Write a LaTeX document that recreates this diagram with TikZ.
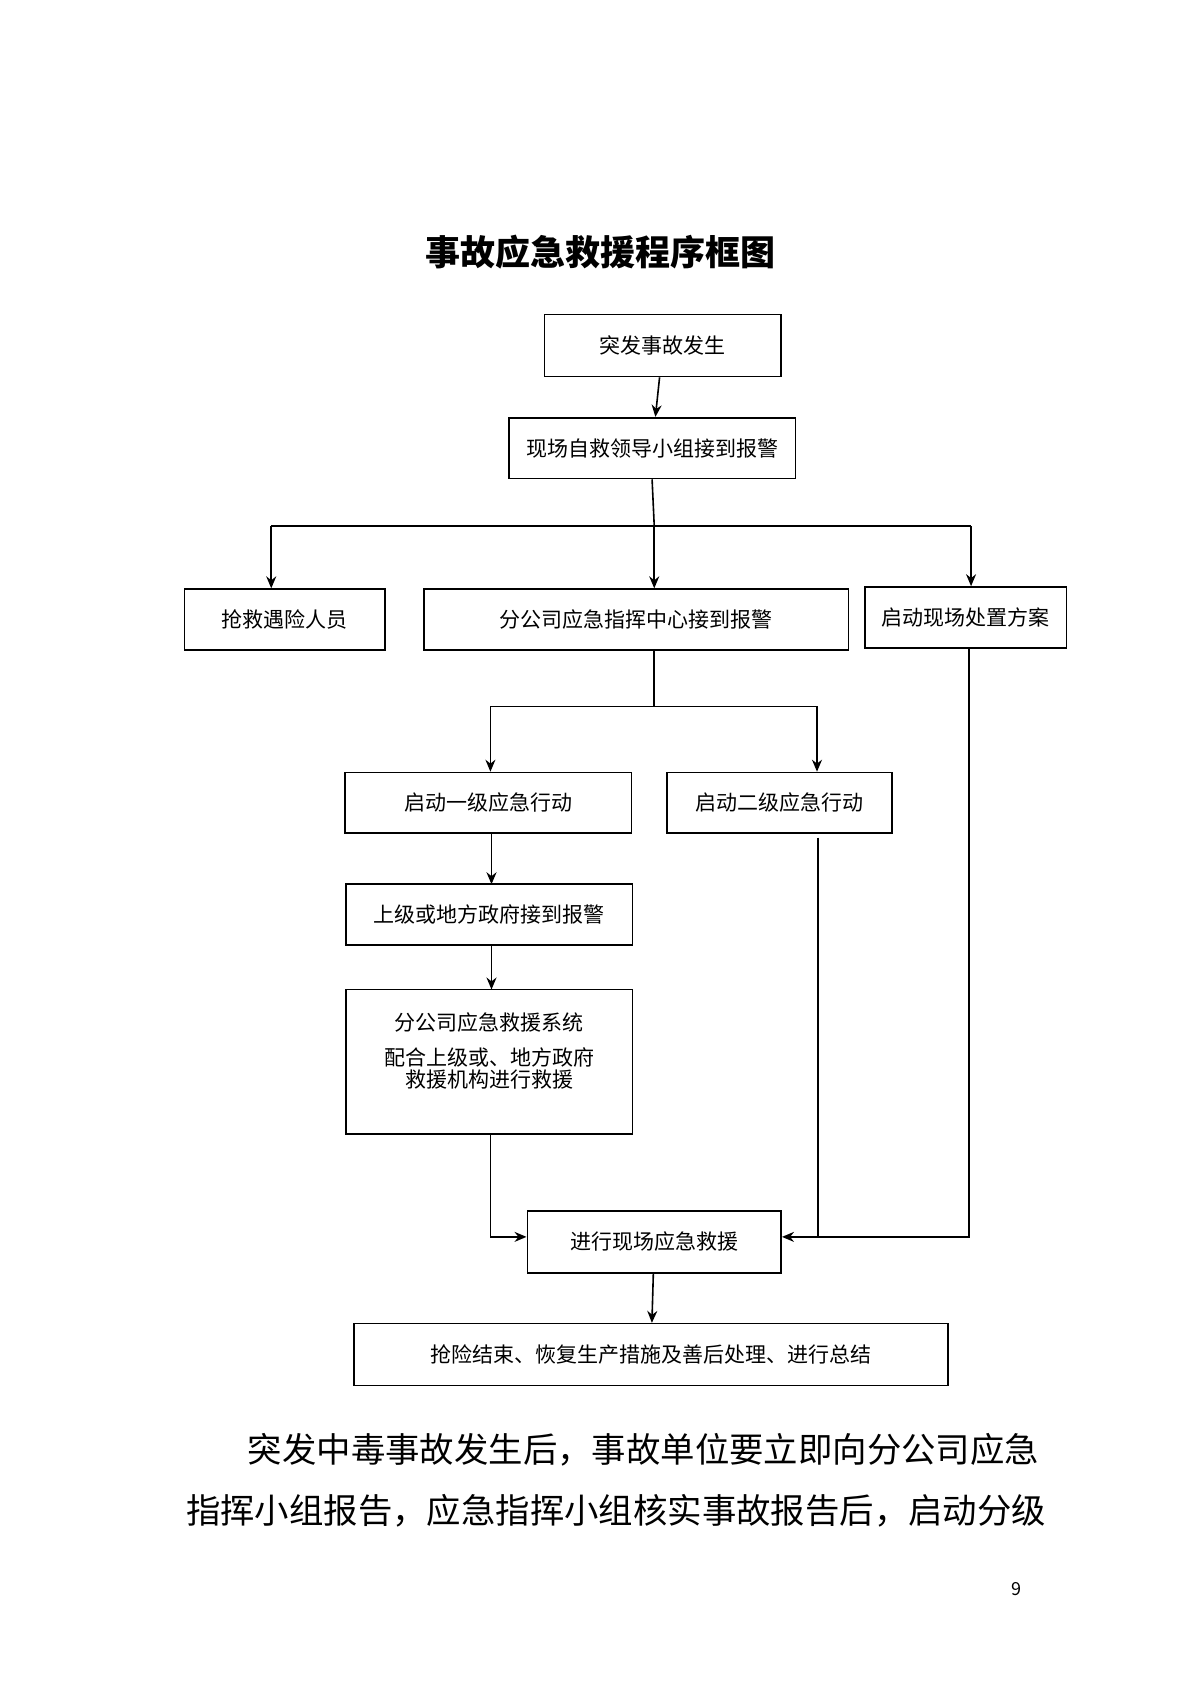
\documentclass[tikz,border=0pt]{standalone}
\usepackage{fontspec}
\setmainfont{Noto Sans CJK SC}
\usetikzlibrary{arrows.meta}
\begin{document}
\begin{tikzpicture}[x=0.5425pt,y=-0.5425pt,
  bx/.style={draw,line width=0.8pt,inner sep=0pt,font=\fontsize{10.5}{12}\selectfont},
  ln/.style={line width=0.8pt},
  ar/.style={line width=0.8pt,-{Stealth[length=6pt,width=5pt]}}]
\useasboundingbox (0,0) rectangle (1106,1565);
\newcommand\bxat[5]{\node[bx,minimum width={(#3-#1)*0.5425pt},minimum height={(#4-#2)*0.5425pt}] (#5) at ({(#1+#3)/2},{(#2+#4)/2}) {};}
\node[font=\fontsize{17.5}{20}\selectfont\bfseries] (title) at (553,232) {事故应急救援程序框图};
\bxat{502}{290}{720}{347}{b1} \node at (b1) {\fontsize{10.5}{12}\selectfont 突发事故发生};
\bxat{469}{385}{733}{441}{b2} \node at (b2) {\fontsize{10.5}{12}\selectfont 现场自救领导小组接到报警};
\bxat{170}{543}{355}{599}{b3} \node at (b3) {\fontsize{10.5}{12}\selectfont 抢救遇险人员};
\bxat{391}{543}{782}{599}{b4} \node at (b4) {\fontsize{10.5}{12}\selectfont 分公司应急指挥中心接到报警};
\bxat{797}{541}{983}{597}{b5} \node at (b5) {\fontsize{10.5}{12}\selectfont 启动现场处置方案};
\bxat{318}{712}{582}{768}{b6} \node at (b6) {\fontsize{10.5}{12}\selectfont 启动一级应急行动};
\bxat{615}{712}{822}{768}{b7} \node at (b7) {\fontsize{10.5}{12}\selectfont 启动二级应急行动};
\bxat{319}{815}{583}{871}{b8} \node at (b8) {\fontsize{10.5}{12}\selectfont 上级或地方政府接到报警};
\bxat{319}{912}{583}{1045}{b9}
\node (t9a) at (451,942) {\fontsize{10.5}{12}\selectfont 分公司应急救援系统};
\node (t9b) at (451,975) {\fontsize{10.5}{12}\selectfont 配合上级或、地方政府};
\node (t9c) at (451,995) {\fontsize{10.5}{12}\selectfont 救援机构进行救援};
\bxat{486}{1116}{720}{1173}{b10} \node at (b10) {\fontsize{10.5}{12}\selectfont 进行现场应急救援};
\bxat{326}{1220}{874}{1277}{b11} \node at (b11) {\fontsize{10.5}{12}\selectfont 抢险结束、恢复生产措施及善后处理、进行总结};
\coordinate (j1) at (603,485); \coordinate (jl) at (250,485); \coordinate (jr) at (895,485);
\coordinate (j2) at (603,651); \coordinate (j2l) at (452,651); \coordinate (j2r) at (753,651);
\coordinate (c9) at (452,1140); \coordinate (c7) at (754,1140); \coordinate (c5) at (893,1140);
\draw[ar] (b1) -- (b2);
\draw[ln] (b2.south) -- (j1); \draw[ln] (jl) -- (jr);
\draw[ar] (jl) -- (jl|-b3.north);
\draw[ar] (j1) -- (j1|-b4.north);
\draw[ar] (jr) -- (jr|-b5.north);
\draw[ln] (j2|-b4.south) -- (j2); \draw[ln] (j2l) -- (j2r);
\draw[ar] (j2l) -- (j2l|-b6.north);
\draw[ar] (j2r) -- (j2r|-b7.north);
\draw[ar] (453,768) -- (453,815);
\draw[ar] (453,871) -- (453,912);
\draw[ar] (c9|-b9.south) -- (c9) -- (b10.west|-c9);
\draw[ln] (754,772) -- (c7);
\draw[ar] (c5|-b5.south) -- (c5) -- (b10.east|-c5);
\draw[ar] (b10) -- (b11);
\node[anchor=west,font=\fontsize{17.2}{20}\selectfont] (p1) at (222,1336) {突发中毒事故发生后，事故单位要立即向分公司应急};
\node[anchor=west,font=\fontsize{17.2}{20}\selectfont] (p2) at (165,1392) {指挥小组报告，应急指挥小组核实事故报告后，启动分级};
\node[font=\fontsize{9}{10}\selectfont] (pg) at (937,1465) {9};
\end{tikzpicture}
\end{document}
